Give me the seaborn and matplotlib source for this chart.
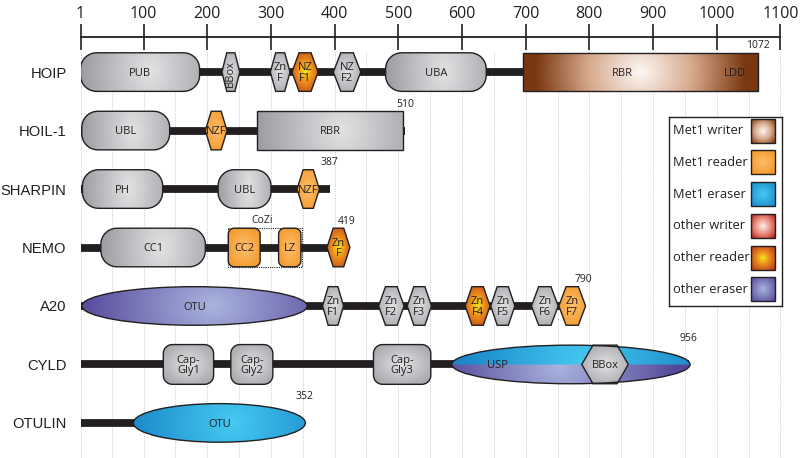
"""
Domain architecture of LUBAC components and Met1-linked ubiquitin readers / erasers.
Draws each protein as a black line with shaded domain shapes on a residue ruler.
"""

import matplotlib

matplotlib.use("Agg")
import matplotlib.pyplot as plt
import numpy as np
import seaborn as sns
from matplotlib.colors import to_rgb
from matplotlib.patches import Ellipse, Polygon, Rectangle

# ---- data -------------------------------------------------------------------
proteins = ["HOIP", "HOIL-1", "SHARPIN", "NEMO", "A20", "CYLD", "OTULIN"]
lengths = ["1072", "510", "387", "419", "790", "956", "352"]
line_ends = [1064, 511, 392, 419, 790, 956, 352]

ruler_ticks = [1, 100, 200, 300, 400, 500, 600, 700, 800, 900, 1000, 1100]
grid_marks = [1] + list(range(50, 1101, 50))

# (label, start, end, shape, class)
hoip_domains = [
    ("PUB", 1, 188, "pill", "gray"),
    ("BBox", 223, 251, "hex", "gray"),
    ("Zn\nF", 299, 330, "hex", "gray"),
    ("NZ\nF1", 333, 374, "hex", "other reader"),
    ("NZ\nF2", 398, 441, "hex", "gray"),
    ("UBA", 480, 638, "pill", "gray"),
    ("RBR", 696, 1064, "rect", "Met1 writer"),
]
hoil1_domains = [
    ("UBL", 3, 141, "pill", "gray"),
    ("NZF", 197, 231, "hex", "Met1 reader"),
    ("RBR", 278, 508, "rect", "gray"),
]
sharpin_domains = [
    ("PH", 4, 130, "pill", "gray"),
    ("UBL", 217, 300, "pill", "gray"),
    ("NZF", 341, 376, "hex", "Met1 reader"),
]
nemo_domains = [
    ("CC1", 33, 197, "pill", "gray"),
    ("CC2", 233, 283, "box", "Met1 reader"),
    ("LZ", 312, 347, "box", "Met1 reader"),
    ("Zn\nF", 388, 424, "hex", "other reader"),
]
a20_domains = [
    ("OTU", 3, 357, "ellipse", "other eraser"),
    ("Zn\nF1", 381, 414, "hex", "gray"),
    ("Zn\nF2", 469, 509, "hex", "gray"),
    ("Zn\nF3", 514, 552, "hex", "gray"),
    ("Zn\nF4", 605, 644, "hex", "other reader"),
    ("Zn\nF5", 645, 683, "hex", "gray"),
    ("Zn\nF6", 709, 751, "hex", "gray"),
    ("Zn\nF7", 752, 794, "hex", "Met1 reader"),
]
cyld_domains = [
    ("Cap-\nGly1", 131, 210, "capbox", "gray"),
    ("Cap-\nGly2", 237, 303, "capbox", "gray"),
    ("Cap-\nGly3", 461, 551, "capbox", "gray"),
    ("USP", 584, 958, "ellipse", "split"),
    ("BBox", 788, 861, "hex", "gray"),
]
otulin_domains = [
    ("OTU", 84, 354, "ellipse", "Met1 eraser"),
]
all_domains = [hoip_domains, hoil1_domains, sharpin_domains, nemo_domains,
               a20_domains, cyld_domains, otulin_domains]

# labels that are not centred in their domain
label_x = {("HOIP", "RBR"): 851, ("CYLD", "USP"): 655}
extra_labels = [("HOIP", "LDD", 1028)]
cozi_span = (232, 348)

legend_labels = ["Met1 writer", "Met1 reader", "Met1 eraser",
                 "other writer", "other reader", "other eraser"]

# ---- styling ----------------------------------------------------------------
INK = "#231f20"
ramps = {
    "gray": [(0, "#e2e2e4"), (1, "#9a9ba0")],
    "Met1 writer": [(0, "#fdf8f4"), (0.5, "#d6a98c"), (1, "#7a3810")],
    "Met1 reader": [(0, "#fdbe6a"), (1, "#f29222")],
    "Met1 eraser": [(0, "#45c9f1"), (1, "#1b88c9")],
    "other writer": [(0, "#fdeee8"), (0.5, "#ea8b7b"), (1, "#b01c1c")],
    "other reader": [(0, "#f6e61a"), (0.4, "#ea8a1e"), (1, "#b0351a")],
    "other eraser": [(0, "#a9b4de"), (1, "#54479a")],
}

FIG_W, FIG_H = 800, 458
AX_LEFT, AX_TOP = 80.5, 37
SX = 700 / 1099          # px per residue
SY = (FIG_H - AX_TOP) / 7.2   # px per row


def gradient(ramp, cx=0.5, cy=0.5, rx=0.5, ry=0.5, nx=160, ny=50):
    yy, xx = np.mgrid[0:1:ny * 1j, 0:1:nx * 1j]
    t = np.clip(np.sqrt(((xx - cx) / rx) ** 2 + ((yy - cy) / ry) ** 2), 0, 1)
    pos = [p for p, _ in ramp]
    cols = np.array([to_rgb(c) for _, c in ramp])
    img = np.stack([np.interp(t, pos, cols[:, k]) for k in range(3)], axis=-1)
    return img


def box_points(x0, x1, yc, h, r_px, n=10):
    w, hh = (x1 - x0) * SX, h * SY
    r = min(r_px, w / 2, hh / 2)
    pts = []
    for cu, cv, a0 in [(w - r, hh / 2 - r, 0), (r, hh / 2 - r, 90),
                       (r, -hh / 2 + r, 180), (w - r, -hh / 2 + r, 270)]:
        for a in np.radians(np.linspace(a0, a0 + 90, n)):
            pts.append((cu + r * np.cos(a), cv + r * np.sin(a)))
    return [(x0 + u / SX, yc - v / SY) for u, v in pts]


def hex_points(x0, x1, yc, h, inset=0.27):
    w, hh = (x1 - x0) * SX, h * SY
    i = inset * w
    pts = [(0, 0), (i, hh / 2), (w - i, hh / 2), (w, 0), (w - i, -hh / 2), (i, -hh / 2)]
    return [(x0 + u / SX, yc - v / SY) for u, v in pts]


def draw_domain(ax, protein, label, x0, x1, yc, shape, kind):
    h = 0.68 if shape in ("capbox",) else 0.66
    if shape == "ellipse":
        patch = Ellipse(((x0 + x1) / 2, yc), x1 - x0, h)
    elif shape == "hex":
        patch = Polygon(hex_points(x0, x1, yc, h, 0.27 if x1 - x0 < 60 else 0.24))
    else:
        radius = {"pill": 16, "capbox": 9, "box": 6, "rect": 0}[shape]
        patch = Polygon(box_points(x0, x1, yc, h, radius))
    patch.set(facecolor="none", edgecolor=INK, linewidth=1.0, zorder=3)
    ax.add_patch(patch)

    if kind == "split":
        top = gradient(ramps["Met1 eraser"], cx=0.55, rx=0.5, ry=3)
        bottom = gradient(ramps["other eraser"], cx=0.45, rx=0.5, ry=3)
        img = np.concatenate([top[:25], bottom[25:]], axis=0)
    elif shape in ("pill", "rect", "ellipse"):
        cx = 0.5 if kind == "Met1 writer" else 0.58
        rx = 0.45 if kind == "Met1 writer" else 0.6
        img = gradient(ramps[kind], cx=cx, rx=rx, ry=2.5)
    else:
        img = gradient(ramps[kind], rx=0.75, ry=0.75)
    im = ax.imshow(img, extent=(x0, x1, yc + h / 2, yc - h / 2), aspect="auto",
                   interpolation="bilinear", zorder=2.5)
    im.set_clip_path(patch)

    tx = label_x.get((protein, label), (x0 + x1) / 2)
    rot = 90 if (label == "BBox" and x1 - x0 < 40) else 0
    ax.text(tx, yc + 0.02, label, ha="center", va="center", fontsize=8,
            color=INK, rotation=rot, linespacing=0.95, zorder=4)


# ---- figure -----------------------------------------------------------------
sns.set_theme(style="white")
plt.rcParams["font.family"] = ["Open Sans", "DejaVu Sans"]

fig = plt.figure(figsize=(FIG_W / 100, FIG_H / 100), dpi=100)
ax = fig.add_axes([AX_LEFT / FIG_W, 0, 700 / FIG_W, (FIG_H - AX_TOP) / FIG_H])

rows = np.arange(len(proteins))
grid_top = (52 - 72) / SY
ax.vlines(grid_marks, grid_top, 6.6, colors="#b8b8b8", linestyles=(0, (1, 1.6)),
          linewidth=0.6, zorder=0)

for i, (name, end, doms) in enumerate(zip(proteins, line_ends, all_domains)):
    ax.plot([1, end], [i, i], color=INK, linewidth=5.6, solid_capstyle="butt", zorder=1)
    for label, x0, x1, shape, kind in doms:
        draw_domain(ax, name, label, x0, x1, i, shape, kind)
    ax.text(end, i - 0.45, lengths[i], ha="center", va="center", fontsize=7.5,
            color=INK, zorder=4)

for name, label, x in extra_labels:
    ax.text(x, proteins.index(name) + 0.02, label, ha="center", va="center",
            fontsize=8, color=INK, zorder=4)

# CoZi region of NEMO
nemo_row = proteins.index("NEMO")
ax.add_patch(Rectangle((cozi_span[0], nemo_row - 0.335), cozi_span[1] - cozi_span[0], 0.67,
                       fill=False, edgecolor=INK, linestyle=(0, (1, 1)), linewidth=0.8,
                       zorder=3.5))
ax.text(286, nemo_row - 0.47, "CoZi", ha="center", va="center", fontsize=7.5, color=INK)

# ruler on top
ax.set_xlim(1, 1100)
ax.set_ylim(6.6, -0.6)
ax.xaxis.tick_top()
ax.set_xticks(ruler_ticks)
ax.set_xticklabels([str(t) for t in ruler_ticks])
ax.tick_params(axis="x", direction="inout", length=19, width=1.2, pad=1,
               labelsize=11.5, colors=INK)
ax.set_yticks(rows)
ax.set_yticklabels(proteins, fontfamily="Liberation Sans", fontsize=10.6, color=INK)
ax.tick_params(axis="y", length=0, pad=10)
for side in ["left", "right", "bottom"]:
    ax.spines[side].set_visible(False)
ax.spines["top"].set_color(INK)
ax.spines["top"].set_linewidth(1.3)
ax.set_facecolor("white")

# legend panel
lax = fig.add_axes([668.5 / FIG_W, 1 - 306 / FIG_H, 113.2 / FIG_W, 189.3 / FIG_H])
lax.set_xlim(0, 113.2)
lax.set_ylim(189.3, 0)
lax.set_xticks([])
lax.set_yticks([])
for sp in lax.spines.values():
    sp.set_color(INK)
    sp.set_linewidth(1.0)
for i, name in enumerate(legend_labels):
    y = 14 + 31.7 * i
    lax.text(4.8, y, name, ha="left", va="center", fontsize=9.3, color=INK)
    sw = Rectangle((82.5, y - 12), 24, 24, facecolor="none", edgecolor=INK, linewidth=1.0,
                   zorder=3)
    lax.add_patch(sw)
    im = lax.imshow(gradient(ramps[name], rx=0.7, ry=0.7, nx=40, ny=40),
                    extent=(82.5, 106.5, y + 12, y - 12), aspect="auto",
                    interpolation="bilinear", zorder=2)
    im.set_clip_path(sw)
lax.set_xlim(0, 113.2)
lax.set_ylim(189.3, 0)

fig.savefig("out.png", dpi=100)
